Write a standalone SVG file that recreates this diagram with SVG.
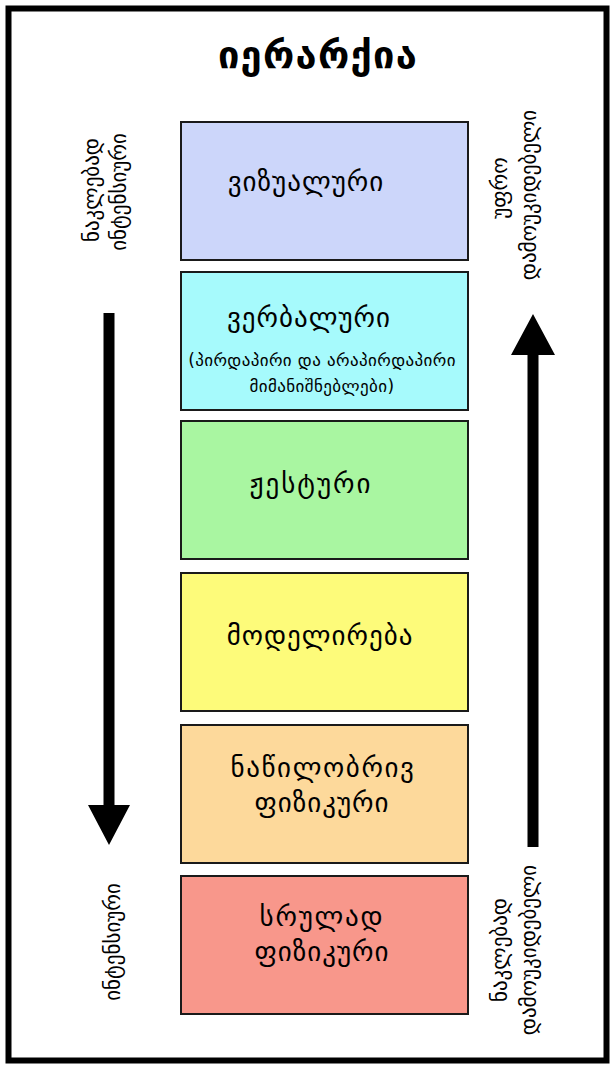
<svg xmlns="http://www.w3.org/2000/svg" width="613" height="1067" viewBox="0 0 613 1067">
<style>
text{font-family:"DejaVu Sans",sans-serif;fill:#000}
.box{stroke:#1a1a1a;stroke-width:2}
.lbl{font-size:27px;text-anchor:middle;letter-spacing:1px}
.sub{font-size:17px;text-anchor:middle;letter-spacing:0.4px}
.side{font-size:21px;text-anchor:middle}
.title{font-size:38px;font-weight:bold;text-anchor:middle;letter-spacing:1.3px}
</style>
<rect x="0" y="0" width="613" height="1067" fill="#fff"/>
<rect x="8.5" y="8.5" width="598" height="1052" fill="#fff" stroke="#000" stroke-width="6"/>
<text class="title" x="318" y="68">იერარქია</text>
<g id="n1"><rect class="box" x="181" y="122" width="287" height="138" fill="#ccd6fa"/><text class="lbl" x="306" y="191">ვიზუალური</text></g>
<g id="n2"><rect class="box" x="181" y="272" width="287" height="138" fill="#a6fafc"/><text class="lbl" x="309" y="327">ვერბალური</text><text class="sub" x="322" y="366">(პირდაპირი და არაპირდაპირი</text><text class="sub" x="322" y="392">მიმანიშნებლები)</text></g>
<g id="n3"><rect class="box" x="181" y="421" width="287" height="138" fill="#a9f6a1"/><text class="lbl" x="311" y="493" style="letter-spacing:2px">ჟესტური</text></g>
<g id="n4"><rect class="box" x="181" y="573" width="287" height="138" fill="#fdfb7a"/><text class="lbl" x="320" y="645">მოდელირება</text></g>
<g id="n5"><rect class="box" x="181" y="725" width="287" height="138" fill="#fdd99b"/><text class="lbl" x="323" y="777" style="letter-spacing:1.6px">ნაწილობრივ</text><text class="lbl" x="322" y="812">ფიზიკური</text></g>
<g id="n6"><rect class="box" x="181" y="876" width="287" height="138" fill="#f8978b"/><text class="lbl" x="322" y="926" style="letter-spacing:1.8px">სრულად</text><text class="lbl" x="322" y="961">ფიზიკური</text></g>
<g id="labels">
<text class="side" transform="translate(99,190) rotate(-90)">ნაკლებად</text>
<text class="side" transform="translate(126,192) rotate(-90)">ინტენსიური</text>
<text class="side" transform="translate(120,942) rotate(-90)">ინტენსიური</text>
<text class="side" transform="translate(507,188) rotate(-90)">უფრო</text>
<text class="side" transform="translate(536,195) rotate(-90)">დამოუკიდებელი</text>
<text class="side" transform="translate(507,950) rotate(-90)">ნაკლებად</text>
<text class="side" transform="translate(536,950) rotate(-90)">დამოუკიდებელი</text>
</g>
<g id="connectors">
<path d="M103.5 313 H114.5 V805 H130 L109 845 L88 805 H103.5 Z" fill="#000"/>
<path d="M527.5 847 H538.5 V355 H555 L533 314 L511 355 H527.5 Z" fill="#000"/>
</g>
</svg>
